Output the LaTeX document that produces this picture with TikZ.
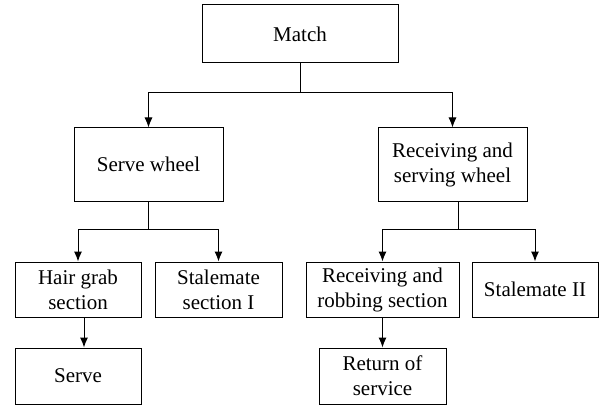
\documentclass[tikz,border=0pt]{standalone}
\usepackage{fontspec}
\setmainfont{Liberation Serif}
\usetikzlibrary{arrows.meta}
\begin{document}
\begin{tikzpicture}[x=1pt,y=-1pt,
  box/.style={draw=black,line width=1pt,inner sep=0pt,align=center,
    font=\fontsize{21}{25}\selectfont},
  link/.style={draw=black,line width=1pt},
  arrowlink/.style={link,-{Latex[length=10pt,width=8pt]}}]
\useasboundingbox (0,0) rectangle (601,406);
% level 0
\node[box,minimum width=196pt,minimum height=58pt] (match) at (300,34) {Match};
% level 1
\node[box,minimum width=149pt,minimum height=73pt] (sw) at (148.5,164.5) {Serve wheel};
\node[box,minimum width=149pt,minimum height=73pt] (rsw) at (452.5,164.5) {Receiving and\\serving wheel};
% level 2
\node[box,minimum width=126pt,minimum height=55pt] (hg) at (78,289.5) {Hair grab\\section};
\node[box,minimum width=127pt,minimum height=55pt] (st1) at (218.5,289.5) {Stalemate\\section I};
\node[box,minimum width=153pt,minimum height=55pt] (rrs) at (382.5,289.5) {Receiving and\\robbing section};
\node[box,minimum width=126pt,minimum height=55pt] (st2) at (535,289.5) {Stalemate II};
% level 3
\node[box,minimum width=126pt,minimum height=56pt] (serve) at (78,376) {Serve};
\node[box,minimum width=127pt,minimum height=56pt] (ret) at (382.5,376) {Return of\\service};
% connectors
\draw[arrowlink] (match.south) -- ++(0,29) -| (sw.north);
\draw[arrowlink] (match.south) -- ++(0,29) -| (rsw.north);
\draw[arrowlink] (sw.south) -- ++(0,28) -| (hg.north);
\draw[arrowlink] (sw.south) -- ++(0,28) -| (st1.north);
\draw[arrowlink] ([xshift=5.5pt]rsw.south) -- ++(0,28) -| (rrs.north);
\draw[arrowlink] ([xshift=5.5pt]rsw.south) -- ++(0,28) -| (st2.north);
\draw[arrowlink] ([xshift=6pt]hg.south) -- ([xshift=6pt]serve.north);
\draw[arrowlink] (rrs.south) -- (ret.north);
\end{tikzpicture}
\end{document}
